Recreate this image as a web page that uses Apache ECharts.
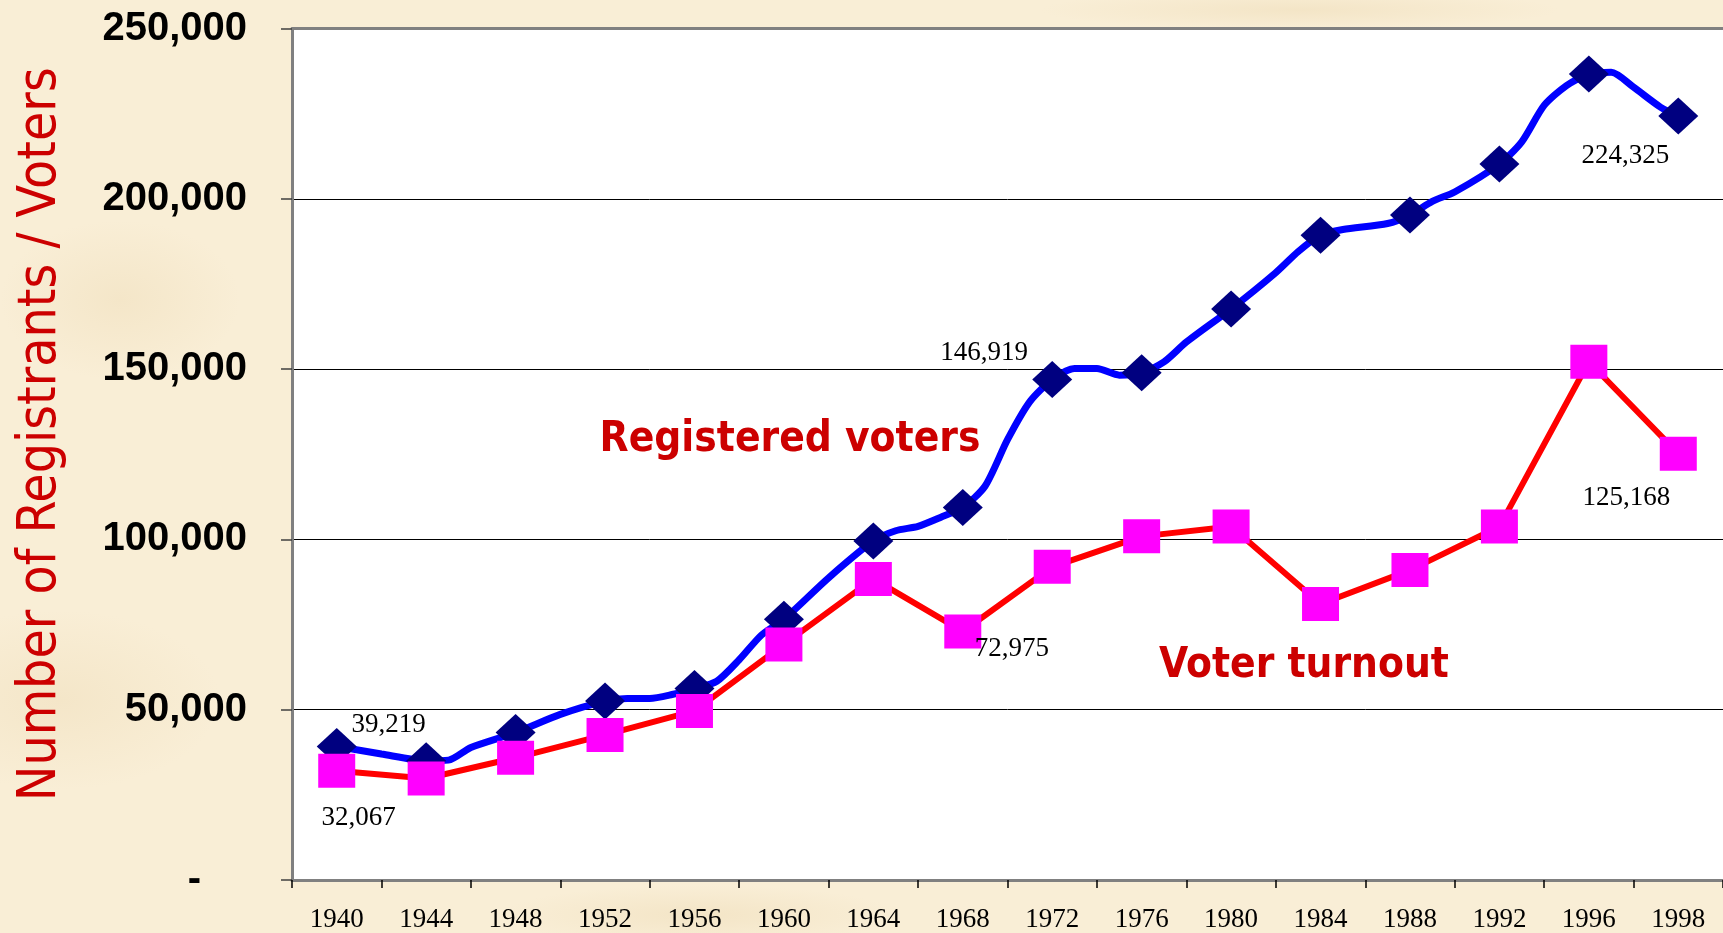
<!DOCTYPE html>
<html><head><meta charset="utf-8">
<script src="https://cdn.jsdelivr.net/npm/echarts@6/dist/echarts.min.js"></script>
<style>
html,body{margin:0;padding:0;width:1723px;height:933px;overflow:hidden;
background-color:#f9eed6;
background-image:
 radial-gradient(ellipse 120px 80px at 120px 300px, rgba(235,215,175,0.35), rgba(235,215,175,0) 100%),
 radial-gradient(ellipse 160px 90px at 60px 700px, rgba(235,215,175,0.35), rgba(235,215,175,0) 100%),
 radial-gradient(ellipse 200px 30px at 700px 915px, rgba(235,215,175,0.4), rgba(235,215,175,0) 100%),
 radial-gradient(ellipse 260px 20px at 1300px 10px, rgba(235,215,175,0.4), rgba(235,215,175,0) 100%);}
#chart{width:1723px;height:933px;}
</style></head><body><div id="chart"></div>
<script>
// ---- data ----
const years = ['1940','1944','1948','1952','1956','1960','1964','1968','1972','1976','1980','1984','1988','1992','1996','1998'];
const registered = [39219, 35040, 43290, 52530, 56200, 76550, 99550, 109370, 146919, 148900, 167670, 189330, 195240, 210230, 236640, 224325];
const turnout = [32067, 29790, 35880, 42590, 49640, 69170, 88410, 72975, 91940, 100890, 103770, 81040, 90980, 103770, 152160, 125168];
// registrations read between election years (shape of the blue curve)
const regInterYears = [1942, 1945, 1946, 1950, 1953, 1954, 1955, 1957, 1958, 1959, 1962, 1965, 1966, 1967, 1969, 1970, 1971, 1973, 1974, 1975, 1977, 1978, 1982, 1983, 1985, 1987, 1989, 1990, 1993, 1994, 1995, 1996.5, 1997, 1997.6];
const regInterValues = [37000, 35200, 38900, 48620, 53290, 53290, 54460, 58360, 64660, 71940, 88730, 102550, 103830, 106450, 115670, 129280, 140450, 150180, 150180, 148230, 152110, 157940, 178340, 184500, 191000, 192740, 199240, 202000, 216730, 227420, 233260, 237130, 232760, 226930];
const yTicks = [0, 50000, 100000, 150000, 200000, 250000];

// ---- build ----
function yearPos(y){ return y <= 1996 ? (y - 1940) / 4 : 14 + (y - 1996) / 2; }
const trend = [];
years.forEach((y, i) => trend.push([yearPos(+y), registered[i]]));
regInterYears.forEach((y, i) => trend.push([yearPos(y), regInterValues[i]]));
trend.sort((a, b) => a[0] - b[0]);

const regLabels = {0: [52, -22], 8: [-68, -27], 15: [-53, 40]};
const turnLabels = {0: [22, 47], 7: [49, 17], 15: [-52, 44]};
const labelFont = {fontFamily: '"Liberation Serif","Times New Roman",serif', fontSize: 27, color: '#000'};
function fmt(v){ return Number(v).toLocaleString('en-US'); }
function withLabels(values, map){
  return values.map((v, i) => {
    if (map[i]) return {value: v, label: Object.assign({show: true, position: 'inside', offset: map[i], formatter: p => fmt(p.value)}, labelFont)};
    return {value: v};
  });
}

const chart = echarts.init(document.getElementById('chart'));
chart.setOption({
  backgroundColor: 'transparent',
  animation: false,
  grid: {left: 292, right: 0, top: 28.5, bottom: 47, show: true, backgroundColor: '#ffffff', borderWidth: 0},
  xAxis: [{
    type: 'category', data: years, boundaryGap: true,
    axisLine: {show: true, lineStyle: {color: '#808080', width: 3}},
    axisTick: {show: true, length: 8, lineStyle: {color: '#000', width: 1.5}},
    axisLabel: {interval: 0, margin: 26, color: '#000', fontFamily: '"Liberation Serif","Times New Roman",serif', fontSize: 27},
    splitLine: {show: false}
  }, {
    type: 'value', min: -0.5, max: 15.5, position: 'top',
    axisLine: {show: true, onZero: false, lineStyle: {color: '#808080', width: 3}},
    axisTick: {show: false}, axisLabel: {show: false}, splitLine: {show: false}
  }],
  yAxis: {
    type: 'value', min: yTicks[0], max: yTicks[yTicks.length - 1], interval: 50000,
    axisLine: {show: true, onZero: false, lineStyle: {color: '#808080', width: 3}},
    axisTick: {show: true, length: 11, lineStyle: {color: '#404040', width: 1.5}},
    splitLine: {show: true, lineStyle: {color: '#000', width: 1}},
    axisLabel: {
      margin: 45, color: '#000', fontWeight: 'bold', fontSize: 40,
      fontFamily: '"Liberation Sans", Arial, sans-serif',
      formatter: v => v === 0 ? '{z|-}' : fmt(v),
      rich: {z: {fontWeight: 'bold', fontSize: 40, fontFamily: '"Liberation Sans", Arial, sans-serif', color: '#000', padding: [0, 46, 0, 0]}}
    },
    name: 'Number of Registrants / Voters', nameLocation: 'middle', nameGap: 224, nameRotate: 90,
    nameTextStyle: {color: '#cc0000', fontSize: 53, fontFamily: '"DejaVu Sans Condensed","DejaVu Sans",sans-serif', padding: [0, 0, 0, 40]}
  },
  series: [{
    type: 'line', xAxisIndex: 1, data: trend, smooth: 0.25, showSymbol: false, symbol: 'none',
    lineStyle: {color: '#0000ff', width: 7}, z: 2
  }, {
    type: 'scatter', xAxisIndex: 0, data: withLabels(registered, regLabels),
    symbol: 'diamond', symbolSize: [40, 37], itemStyle: {color: '#000080', opacity: 1}, z: 3
  }, {
    type: 'line', xAxisIndex: 0, data: withLabels(turnout, turnLabels),
    symbol: 'rect', symbolSize: [37, 34], showAllSymbol: true,
    itemStyle: {color: '#ff00ff', opacity: 1}, lineStyle: {color: '#ff0000', width: 6}, z: 4
  }],
  graphic: [{
    type: 'text', x: 790, y: 440, z: 10,
    style: {text: 'Registered voters', fill: '#cc0000', font: 'bold 42px "DejaVu Sans Condensed","DejaVu Sans",sans-serif', align: 'center', verticalAlign: 'middle', textAlign: 'center', textVerticalAlign: 'middle'}
  }, {
    type: 'text', x: 1304, y: 666, z: 10,
    style: {text: 'Voter turnout', fill: '#cc0000', font: 'bold 42px "DejaVu Sans Condensed","DejaVu Sans",sans-serif', align: 'center', verticalAlign: 'middle', textAlign: 'center', textVerticalAlign: 'middle'}
  }]
});
</script></body></html>
